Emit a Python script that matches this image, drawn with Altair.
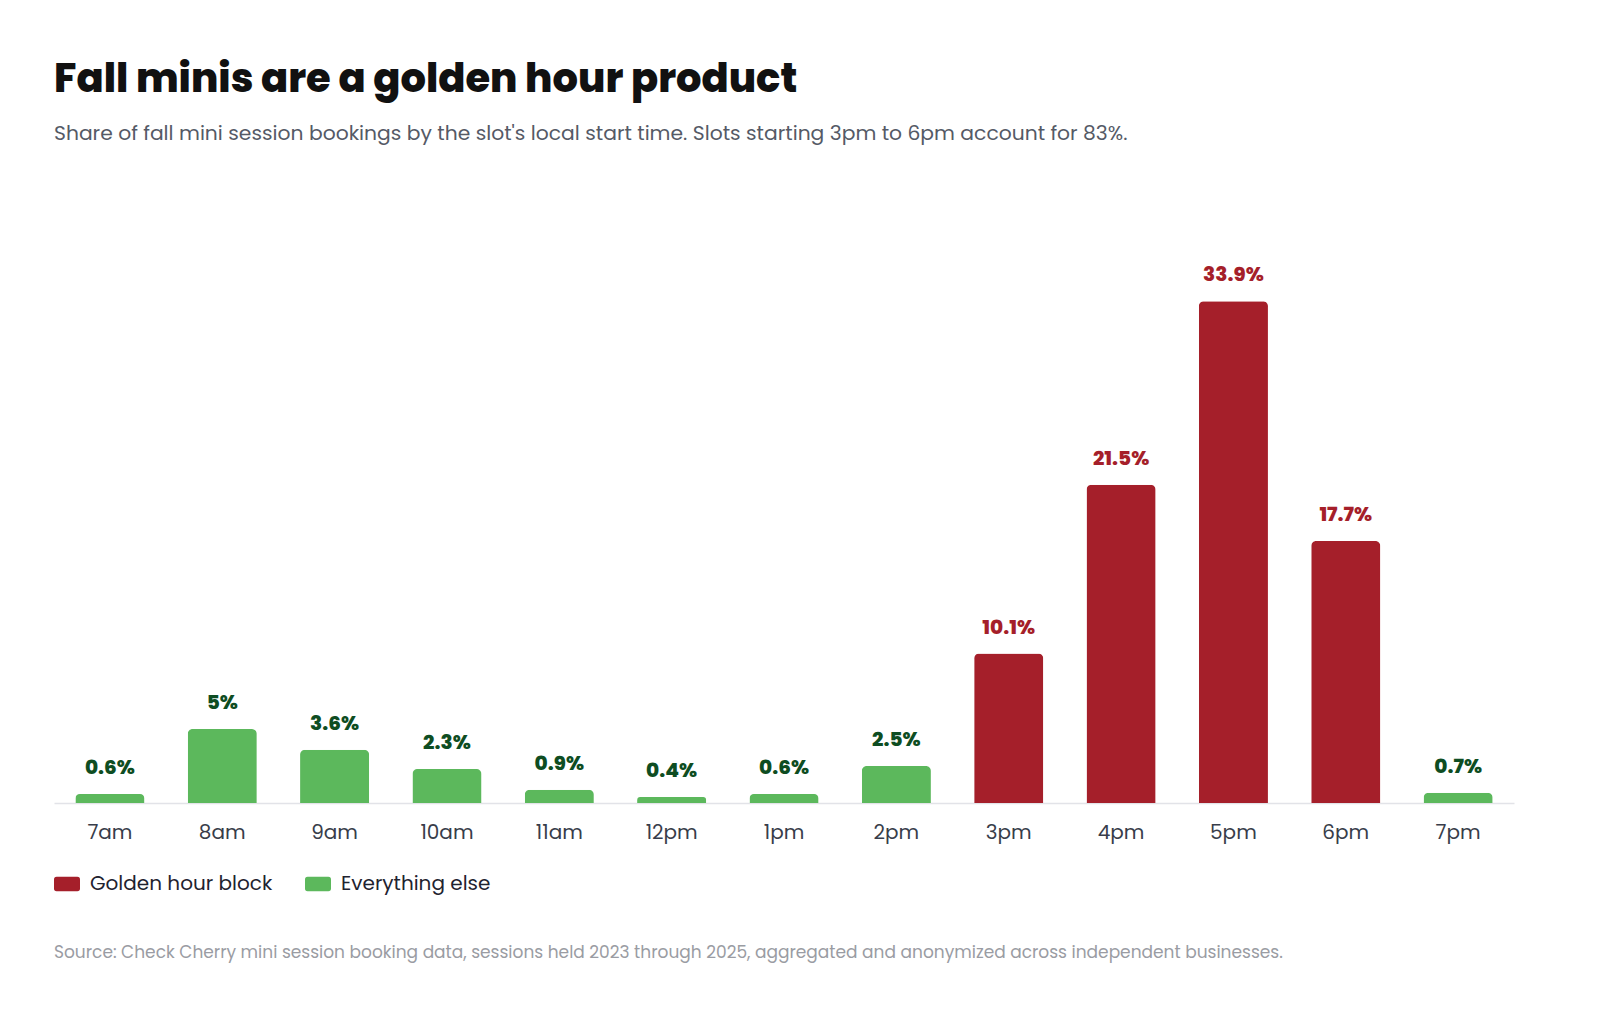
import altair as alt
import pandas as pd

hours = ["7am", "8am", "9am", "10am", "11am", "12pm", "1pm", "2pm",
         "3pm", "4pm", "5pm", "6pm", "7pm"]
shares = [0.6, 5.0, 3.6, 2.3, 0.9, 0.4, 0.6, 2.5, 10.1, 21.5, 33.9, 17.7, 0.7]
groups = ["Everything else"] * 8 + ["Golden hour block"] * 4 + ["Everything else"]
group_order = ["Golden hour block", "Everything else"]

title_text = "Fall minis are a golden hour product"
subtitle_text = ("Share of fall mini session bookings by the slot's local start time. "
                 "Slots starting 3pm to 6pm account for 83%.")
source_text = ("Source: Check Cherry mini session booking data, sessions held 2023 through 2025, "
               "aggregated and anonymized across independent businesses.")

RED = "#A51F2A"
GREEN = "#5CB85C"
DARK_GREEN = "#0E4D22"
FONT = "Poppins, Inter, Lato, sans-serif"

df = pd.DataFrame({"hour": hours, "share": shares, "group": groups})
src = pd.DataFrame({"note": [source_text]})

x_enc = alt.X("hour:N", sort=hours, title=None,
              scale=alt.Scale(paddingInner=0.385, paddingOuter=0.19),
              axis=alt.Axis(labelAngle=0, labelFontSize=20, labelColor="#383D4A",
                            labelFont=FONT, labelPadding=19, ticks=False,
                            domainColor="#E2E3E8", domainWidth=1.5, grid=False))
y_enc = alt.Y("share:Q", scale=alt.Scale(domain=[0, 40]), axis=None)

bars = alt.Chart(df).mark_bar(cornerRadiusTopLeft=5, cornerRadiusTopRight=5).encode(
    x=x_enc,
    y=y_enc,
    color=alt.Color("group:N",
                    scale=alt.Scale(domain=group_order, range=[RED, GREEN]),
                    legend=alt.Legend(title=None, orient="none", legendX=0, legendY=660,
                                      direction="horizontal",
                                      symbolType="M-0.8,-0.55 L0.8,-0.55 Q1,-0.55 1,-0.35 L1,0.35 Q1,0.55 0.8,0.55 L-0.8,0.55 Q-1,0.55 -1,0.35 L-1,-0.35 Q-1,-0.55 -0.8,-0.55 Z",
                                      symbolSize=676, symbolStrokeWidth=0,
                                      labelFontSize=20, labelColor="#1F2330", labelFont=FONT,
                                      labelLimit=400, labelOffset=10, columnPadding=32)),
)

labels = alt.Chart(df).transform_calculate(
    label="format(datum.share, '.1~f') + '%'"
).mark_text(baseline="alphabetic", dy=-20, fontSize=20, fontWeight=800, font=FONT).encode(
    x=alt.X("hour:N", sort=hours),
    y=y_enc,
    text="label:N",
    color=alt.condition(alt.datum.group == "Golden hour block",
                        alt.value(RED), alt.value(DARK_GREEN)),
)

source = alt.Chart(src).mark_text(align="left", baseline="middle", fontSize=17,
                                  color="#9A9CA3", font=FONT).encode(
    x=alt.value(0), y=alt.value(742), text="note:N")

chart = alt.layer(bars, labels, source).properties(
    width=1460, height=592,
    background="white",
    title=alt.TitleParams(text=title_text, subtitle=subtitle_text, anchor="start",
                          font=FONT, fontSize=40, fontWeight=800, color="#111111",
                          subtitleFont=FONT, subtitleFontSize=20.3, subtitleColor="#555A66",
                          subtitlePadding=24, offset=67),
    padding={"left": 46, "top": 51, "right": 20, "bottom": 20},
).configure_view(strokeWidth=0, stroke=None)

chart.save("out.html", embed_options={"renderer": "svg", "actions": False})
